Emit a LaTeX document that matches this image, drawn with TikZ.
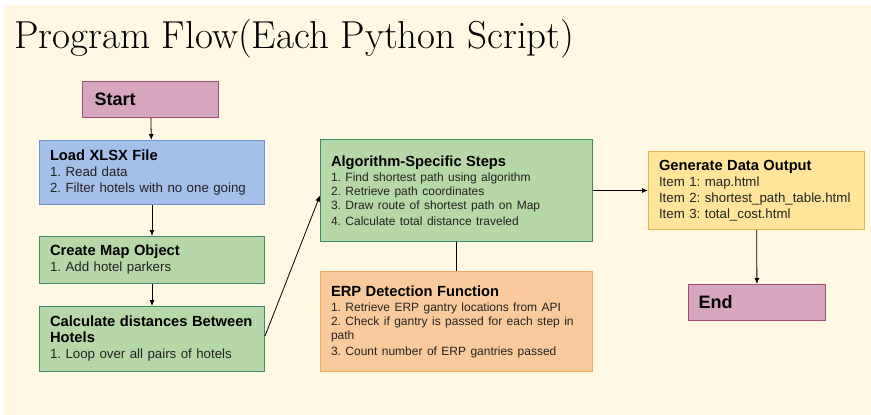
\documentclass[tikz,border=0pt]{standalone}
\usepackage{fontspec}
\usepackage{tikz}
\usepackage{xcolor}
\usetikzlibrary{arrows.meta, positioning}
\newfontfamily\arial{Liberation Sans}
\definecolor{Paper}{HTML}{FFF8E3}
\definecolor{Pink_Fill}{HTML}{D5A6BD}
\definecolor{Pink_Line}{HTML}{A64D79}
\definecolor{Blue_Fill}{HTML}{A4BFE8}
\definecolor{Blue_Line}{HTML}{6D93D6}
\definecolor{Green_Fill}{HTML}{B6D7A8}
\definecolor{Green_Line}{HTML}{3D8B6D}
\definecolor{Orange_Fill}{HTML}{F9CB9C}
\definecolor{Orange_Line}{HTML}{F0A95E}
\definecolor{Yellow_Fill}{HTML}{FFE599}
\definecolor{Yellow_Line}{HTML}{E0B84A}
\definecolor{Ink}{HTML}{222222}
\newcommand{\hd}[1]{{\fontsize{14.7}{17}\selectfont\bfseries\color{black}#1}}
\newcommand{\stepsz}{\fontsize{12}{13.7}\selectfont}

\begin{document}
\begin{tikzpicture}[x=1pt, y=-1pt,
    box/.style={draw, line width=1pt, rectangle, anchor=north west,
        inner xsep=10.5pt, inner ysep=0pt, align=left, text=Ink,
        font=\arial\frenchspacing\fontsize{13.3}{16}\selectfont},
    term/.style={box, inner xsep=12pt, text=black, font=\arial\fontsize{18}{20}\selectfont\bfseries},
    arr/.style={-{Latex[length=6pt, width=5pt]}, line width=0.8pt}]
    % Page
    \useasboundingbox (0,0) rectangle (871,415);
    \fill[white] (0,0) rectangle (871,415);
    \fill[Paper] (4,5) rectangle (871,415);

    % Title
    \node[anchor=base west, inner sep=0pt, font=\fontsize{39}{42}\selectfont] (title) at (14,48) {Program Flow(Each Python Script)};

    % Left column
    \node[term, fill=Pink_Fill, draw=Pink_Line, text width=112pt, minimum height=36pt] (start) at (82,81) {Start};
    \node[box, fill=Blue_Fill, draw=Blue_Line, text width=204pt, minimum height=64pt] (load) at (39,140)
        {\hd{Load XLSX File}\\1. Read data\\2. Filter hotels with no one going};
    \node[box, fill=Green_Fill, draw=Green_Line, text width=204pt, minimum height=47pt] (map) at (39,236)
        {\hd{Create Map Object}\\1. Add hotel parkers};
    \node[box, fill=Green_Fill, draw=Green_Line, text width=204pt, minimum height=65pt] (dist) at (39,306)
        {\hd{Calculate distances Between}\\\hd{Hotels}\\1. Loop over all pairs of hotels};

    % Middle column
    \node[box, fill=Green_Fill, draw=Green_Line, text width=251pt, minimum height=102pt] (algo) at (320,139)
        {\hd{Algorithm-Specific Steps}\\[2pt]\stepsz 1. Find shortest path using algorithm\\2. Retrieve path coordinates\\3. Draw route of shortest path on Map\\4. Calculate total distance traveled};
    \node[box, fill=Orange_Fill, draw=Orange_Line, text width=251pt, minimum height=100pt] (erp) at (320,271)
        {\hd{ERP Detection Function}\\[2pt]\stepsz 1. Retrieve ERP gantry locations from API\\2. Check if gantry is passed for each step in\\path\\3. Count number of ERP gantries passed};

    % Right column
    \node[box, fill=Yellow_Fill, draw=Yellow_Line, text width=195pt, minimum height=78pt] (output) at (648,151)
        {\hd{Generate Data Output}\\Item 1: map.html\\Item 2: shortest\_path\_table.html\\Item 3: total\_cost.html};
    \node[term, fill=Pink_Fill, draw=Pink_Line, inner xsep=10pt, text width=117pt, minimum height=36pt] (end) at (688,284) {End};

    % Flow
    \draw[arr] (start) -- (load);
    \draw[arr] (load) -- (map);
    \draw[arr] (map) -- (dist);
    \draw[arr] ([yshift=3pt]dist.east) -- ([yshift=-5pt]algo.west);
    \draw[arr] (algo.east) -- (output.west);
    \draw[line width=0.8pt] (algo) -- (erp);
    \draw[arr] (output) -- (end);
\end{tikzpicture}
\end{document}
